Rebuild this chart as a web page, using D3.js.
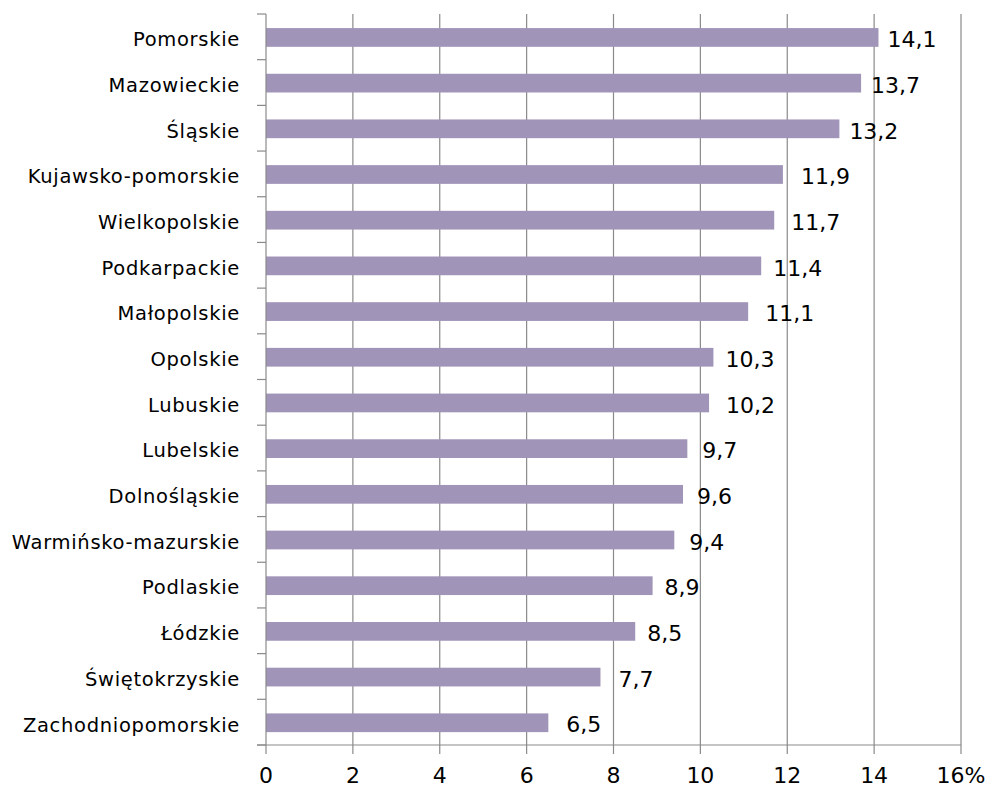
<!DOCTYPE html>
<html><head><meta charset="utf-8">
<script src="https://cdn.jsdelivr.net/npm/d3@7"></script>
<style>body{margin:0;background:#fff}svg{display:block}text{font-family:"DejaVu Sans",sans-serif;fill:#000}</style>
</head><body><svg id="c" width="985" height="787"></svg>
<script>
const regions = ["Pomorskie","Mazowieckie","Śląskie","Kujawsko-pomorskie","Wielkopolskie","Podkarpackie","Małopolskie","Opolskie","Lubuskie","Lubelskie","Dolnośląskie","Warmińsko-mazurskie","Podlaskie","Łódzkie","Świętokrzyskie","Zachodniopomorskie"];
const values = [14.1,13.7,13.2,11.9,11.7,11.4,11.1,10.3,10.2,9.7,9.6,9.4,8.9,8.5,7.7,6.5];
const xTicks = [0,2,4,6,8,10,12,14,16];
const xTickLabels = ["0","2","4","6","8","10","12","14","16%"];
// layout only: horizontal nudge of each value label from its bar end (px)
const labelNudge = [9,10,10,18,17,12,17,12,17,15,14,15,12,12,18,18];

(function(){
const svg = d3.select("#c");
const L = 266, R = 961, T = 14, B = 745;
const x = d3.scaleLinear().domain([0,16]).range([L,R]);
const y = d3.scaleBand().domain(regions).range([T,B]).paddingInner(0.59).paddingOuter(0.295);
const grid = "#8a8a8a";

svg.append("g").selectAll("line").data(xTicks.slice(1)).join("line")
  .attr("x1",d=>x(d)).attr("x2",d=>x(d)).attr("y1",T).attr("y2",B+9)
  .attr("stroke",grid).attr("stroke-width",1.2);

svg.append("g").selectAll("rect").data(regions).join("rect")
  .attr("x",x(0)).attr("y",d=>y(d)+0.6).attr("height",y.bandwidth())
  .attr("width",(d,i)=>x(values[i])-x(0)).attr("fill","#a094b8");

svg.append("line").attr("x1",L).attr("x2",L).attr("y1",T).attr("y2",B+9).attr("stroke",grid).attr("stroke-width",1.2);
const step = (B-T)/regions.length;
svg.append("g").selectAll("line").data(d3.range(regions.length+1)).join("line")
  .attr("x1",L-9).attr("x2",L).attr("y1",i=>T+i*step).attr("y2",i=>T+i*step)
  .attr("stroke",grid).attr("stroke-width",1.2);
svg.append("line").attr("x1",L-9).attr("x2",R).attr("y1",B).attr("y2",B).attr("stroke",grid).attr("stroke-width",1.2);

svg.append("g").selectAll("text").data(regions).join("text")
  .attr("x",L-26).attr("y",d=>y(d)+y.bandwidth()/2).attr("dy","0.48em")
  .attr("text-anchor","end").attr("font-size",19.5).attr("letter-spacing",0.7).text(d=>d);

svg.append("g").selectAll("text").data(xTicks).join("text")
  .attr("x",d=>x(d)).attr("y",783).attr("text-anchor","middle").attr("font-size",22)
  .text((d,i)=>xTickLabels[i]);

svg.append("g").selectAll("text").data(regions).join("text")
  .attr("x",(d,i)=>x(values[i])+labelNudge[i]).attr("y",d=>y(d)+y.bandwidth()/2).attr("dy","0.47em")
  .attr("font-size",22).text((d,i)=>String(values[i]).replace(".",","));
})();
</script></body></html>
